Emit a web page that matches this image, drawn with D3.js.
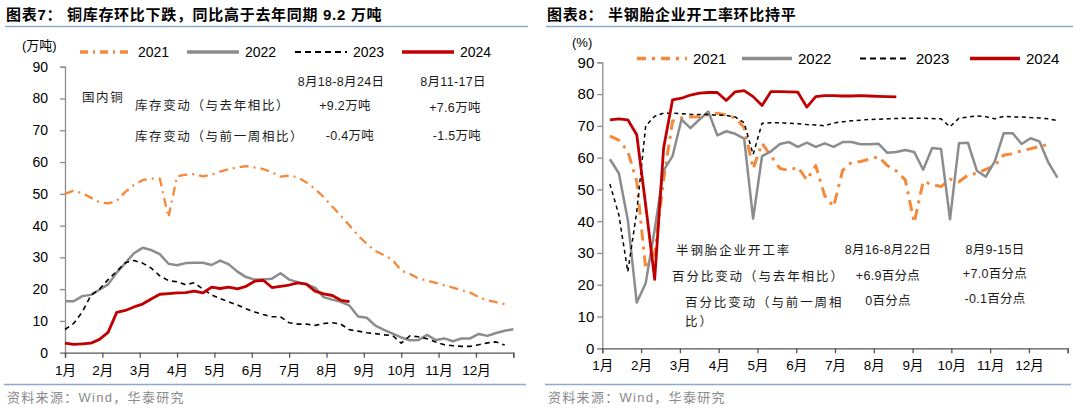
<!DOCTYPE html>
<html><head><meta charset="utf-8">
<script src="https://cdn.jsdelivr.net/npm/d3@7"></script>
<style>
body{margin:0;background:#fff;}
svg text{font-family:"Liberation Sans","Noto Sans CJK SC",sans-serif;}
</style></head>
<body><svg id="c" width="1080" height="409"></svg>
<script>
// ---------- data ----------
const months = ["1月","2月","3月","4月","5月","6月","7月","8月","9月","10月","11月","12月"];
const yTicks = [0,10,20,30,40,50,60,70,80,90];
const seriesNames = ["2021","2022","2023","2024"];

// Chart 7: domestic copper inventory (10k t), weekly
const cuStartWeek = 0;
const cu2021 = [50.0,51.0,50.2,48.8,47.3,47.0,47.8,50.6,52.8,54.3,54.8,54.8,42.6,55.5,56.0,56.2,55.5,56.0,57.0,57.8,58.3,58.7,58.3,57.8,56.8,55.4,55.7,55.2,53.6,51.5,49.0,46.0,43.1,40.0,36.8,34.3,32.0,30.7,29.2,25.8,24.8,23.4,22.7,22.0,21.2,20.5,19.7,18.9,17.5,16.5,15.9,15.3];
const cu2022 = [16.2,16.2,17.8,18.2,19.8,21.5,25.2,28.2,31.3,33.0,32.3,31.0,28.0,27.5,28.2,28.3,28.3,27.6,29.0,27.8,25.5,23.8,23.0,23.0,23.3,25.0,23.0,22.2,21.5,20.5,17.5,16.7,16.0,14.8,11.4,11.0,8.5,7.2,6.0,4.8,3.9,4.0,5.6,4.0,4.5,3.6,4.5,4.5,5.9,5.3,6.2,6.9,7.4];
const cu2023 = [7.3,9.2,12.8,18.0,20.0,23.0,25.6,28.3,29.0,28.2,26.6,24.2,22.7,22.3,21.4,22.0,20.0,18.2,17.0,16.0,15.0,13.8,12.8,12.0,11.3,11.3,9.4,9.0,9.0,8.6,9.2,9.4,9.0,7.2,6.8,6.3,6.0,5.6,5.4,3.0,5.3,5.0,4.4,3.4,2.5,2.2,2.0,2.0,2.5,3.1,3.4,2.4];
const cu2024 = [3.0,2.6,2.8,3.0,4.2,6.4,12.7,13.3,14.4,15.3,16.9,18.4,18.6,18.8,18.9,19.4,18.8,20.6,20.2,20.6,20.1,20.9,22.5,22.8,20.5,20.9,21.3,22.0,21.6,19.4,18.5,18.0,16.5,16.1];

// Chart 8: semi-steel tyre operating rate (%), weekly
const tyreStartWeek = 0.85;
const ty2021 = [66.8,65.5,62.0,52.5,25.0,30.0,53.0,71.5,72.5,72.8,72.9,73.5,74.0,73.4,72.5,69.5,56.5,64.5,60.5,56.6,56.0,57.0,53.0,57.5,48.0,44.6,56.0,58.5,58.8,59.5,60.3,57.5,55.8,53.0,39.5,52.5,51.5,50.9,53.2,52.4,54.5,55.1,56.3,57.5,60.8,61.2,62.2,62.8,63.5,64.2];
const ty2022 = [59.5,55.1,40.4,14.4,20.5,37.3,56.0,60.5,72.0,69.3,72.0,74.5,67.0,68.3,67.5,66.0,40.8,60.5,62.0,64.3,64.9,63.4,64.7,63.4,64.5,63.4,64.9,64.9,64.2,64.2,64.4,61.5,61.8,62.4,61.8,56.2,63.0,62.7,40.6,64.5,64.7,55.9,54.0,58.8,67.7,67.7,64.3,66.1,65.1,58.4,53.7];
const ty2023 = [51.7,42.0,24.1,43.0,70.0,73.0,74.0,74.0,73.8,73.6,73.6,73.6,73.3,73.3,72.8,71.0,61.0,70.8,71.0,71.0,70.8,70.7,70.4,70.3,70.0,70.9,71.3,71.6,71.8,72.0,72.1,72.2,72.3,72.4,72.4,72.4,72.3,72.2,69.7,72.4,72.8,73.1,72.9,72.2,73.0,72.8,72.8,72.6,72.5,72.2,71.7];
const ty2024 = [71.9,72.2,71.9,67.2,45.0,21.7,63.0,78.2,78.7,79.7,80.3,80.5,80.5,78.0,80.7,81.1,79.2,76.4,80.8,80.8,80.7,80.6,75.9,79.2,79.5,79.5,79.4,79.4,79.5,79.4,79.3,79.2,79.1];

// annotation tables
const cuNote = {
  label: "国内铜",
  rows: ["库存变动（与去年相比）","库存变动（与前一周相比）"],
  cols: ["8月18-8月24日","8月11-17日"],
  vals: [["+9.2万吨","+7.6万吨"],["-0.4万吨","-1.5万吨"]]
};
const tyNote = {
  label: "半钢胎企业开工率",
  rows: ["百分比变动（与去年相比）","百分比变动（与前一周相","比）"],
  cols: ["8月16-8月22日","8月9-15日"],
  vals: [["+6.9百分点","+7.0百分点"],["0百分点","-0.1百分点"]]
};

// ---------- drawing ----------
const svg = d3.select("#c");
const COL = {o:"#F4893B", g:"#8C8C8C", k:"#000000", r:"#C00000", rule:"#8EA9CB", src:"#8a8a8a"};
const styles = [
  {c:COL.o, dash:true},
  {c:COL.g, dash:false},
  {c:COL.k, dash:true},
  {c:COL.r, dash:false}
];

function panel(o){
  const g = svg.append("g");
  // title
  g.append("text").attr("x",o.tx).attr("y",19.5).attr("font-size",15).attr("font-weight","bold")
    .attr("letter-spacing",0.7).attr("fill","#000").text(o.title);
  g.append("line").attr("x1",o.tx-1).attr("x2",o.rx).attr("y1",26.5).attr("y2",26.5)
    .attr("stroke",COL.rule).attr("stroke-width",1.3);
  // bottom rule + source
  g.append("line").attr("x1",o.tx-2).attr("x2",o.rx-2).attr("y1",384.5).attr("y2",384.5)
    .attr("stroke",COL.rule).attr("stroke-width",1.5);
  g.append("text").attr("x",o.tx+1).attr("y",402).attr("font-size",13).attr("letter-spacing",1.3)
    .attr("fill",COL.src).text("资料来源：Wind，华泰研究");

  const x = d3.scaleLinear().domain([0,52]).range([o.x0,o.x1]);
  const y = d3.scaleLinear().domain([0,90]).range([o.y0,o.y1]);

  // y axis
  const ya = g.append("g").attr("transform",`translate(${o.x0},0)`)
    .call(d3.axisLeft(y).tickValues(yTicks).tickSize(5).tickPadding(o.ypad));
  ya.select(".domain").attr("stroke","#8c8c8c").attr("stroke-width",1.3);
  ya.selectAll(".tick line").attr("stroke","#8c8c8c").attr("stroke-width",1.3);
  ya.selectAll(".tick text").attr("font-size",o.yfs).attr("fill","#000")
    .attr("font-family","Liberation Sans, sans-serif");

  // x axis
  const mt = d3.range(13).map(m=>m*52/12);
  const xa = g.append("g").attr("transform",`translate(0,${o.y0})`)
    .call(d3.axisBottom(x).tickValues(mt).tickSize(5).tickPadding(o.xpad)
      .tickFormat((d,i)=> i<12 ? months[i] : ""));
  xa.select(".domain").attr("stroke","#555").attr("stroke-width",1.3);
  xa.selectAll(".tick line").attr("stroke","#555").attr("stroke-width",1.3);
  xa.selectAll(".tick text").attr("font-size",13.5).attr("fill","#000");

  // unit label
  g.append("text").attr("x",o.unitX).attr("y",o.unitY).attr("font-size",13).attr("fill","#000").text(o.unit);

  // lines
  o.data.forEach((arr,k)=>{
    const st = styles[k];
    const line = d3.line().x((d,i)=>x(o.start+i)).y(d=>y(d));
    g.append("path").datum(arr).attr("d",line).attr("fill","none")
      .attr("stroke",st.c).attr("stroke-width",o.lw[k]).attr("stroke-linejoin","round")
      .attr("stroke-dasharray",st.dash ? o.dash[k] : null);
  });

  // legend
  seriesNames.forEach((n,k)=>{
    const st = styles[k];
    const lx = o.legX[k];
    g.append("line").attr("x1",lx).attr("x2",lx+o.legL).attr("y1",o.legY).attr("y2",o.legY)
      .attr("stroke",st.c).attr("stroke-width",k===2?2.2:3.5)
      .attr("stroke-dasharray",st.dash ? o.legDash[k] : null);
    g.append("text").attr("x",lx+o.legL+6).attr("y",o.legY+5).attr("font-size",o.legFs)
      .attr("fill","#000").text(n);
  });
  return {g,x,y};
}

function note(g, n, p){
  const t = (x,y,s,anchor,ls)=> g.append("text").attr("x",x).attr("y",y).attr("font-size",12.5)
      .attr("text-anchor",anchor||"start").attr("letter-spacing",ls||0).attr("fill","#1a1a1a").text(s);
  t(p.lx,p.ly,n.label,"start",p.ls);
  n.rows.forEach((r,i)=>t(p.rx[i],p.ry[i],r,"start",p.ls));
  n.cols.forEach((c,j)=>t(p.cx[j],p.cy,c,"middle",0.3));
  n.vals.forEach((row,i)=>row.forEach((v,j)=>t(p.cx[j]+(p.vdx[i][j]||0),p.vy[i][j],v,"middle",0.3)));
}

const L = panel({
  title:"图表7：  铜库存环比下跌，同比高于去年同期 9.2 万吨", tx:6, rx:528,
  x0:65, x1:513.3, y0:352.7, y1:66.7, yfs:14, ypad:12, xpad:8,
  unit:"(万吨)", unitX:22, unitY:50,
  start:cuStartWeek, data:[cu2021,cu2022,cu2023,cu2024], lw:[2.3,2.5,1.6,2.8],
  dash:["9,5,2,5",null,"5,4",null],
  legX:[80,187,295,402], legL:52, legY:52, legFs:14,
  legDash:["8,5,2,5",null,"6,4",null]
});
note(L.g, cuNote, {lx:82, ly:102, ls:1.6, rx:[135,135], ry:[110,141],
  cx:[341,453], cy:86, vy:[[110,112],[140,140]], vdx:[[4,2],[9,4]]});

const R = panel({
  title:"图表8：  半钢胎企业开工率环比持平", tx:547, rx:1073,
  x0:602.3, x1:1067.7, y0:348.3, y1:62.3, yfs:15, ypad:3, xpad:7,
  unit:"(%)", unitX:572, unitY:47,
  start:tyreStartWeek, data:[ty2021,ty2022,ty2023,ty2024], lw:[3,2.5,1.5,2.8],
  dash:["11,6,3,6",null,"4,3.5",null],
  legX:[637,742,860,970], legL:50, legY:58.5, legFs:15,
  legDash:["9,6,3,6",null,"6,4",null]
});
note(R.g, tyNote, {lx:676, ly:255, ls:1.9, rx:[672,685,685], ry:[281,307,326],
  cx:[888,995], cy:254, vy:[[280,278],[305,303]], vdx:[[0,0],[0,0]]});
</script></body></html>
